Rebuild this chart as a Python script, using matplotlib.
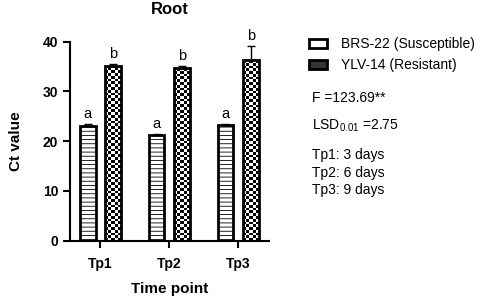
import numpy as np
import matplotlib
matplotlib.use("Agg")
import matplotlib.pyplot as plt
from matplotlib.patches import Patch

plt.rcParams['font.family'] = ['Liberation Sans', 'DejaVu Sans']

# data
timepoints = ["Tp1", "Tp2", "Tp3"]
brs22 = [23.1, 21.3, 23.3]
brs22_err = [0.3, 0.2, 0.2]
ylv14 = [35.2, 34.8, 36.4]
ylv14_err = [0.3, 0.4, 2.7]
brs22_letters = ["a", "a", "a"]
ylv14_letters = ["b", "b", "b"]

fig = plt.figure(figsize=(4.98, 3.0), dpi=100)
ax = fig.add_axes([0.1406, 0.198, 0.40, 0.663])

x = np.arange(len(timepoints))
w = 0.23
off = 0.185

b1 = ax.bar(x - off, brs22, w, color="white", edgecolor="black", linewidth=2,
            hatch="----", zorder=2)
for p in b1:
    p.set_hatch_linewidth(0.6)
b2 = ax.bar(x + off, ylv14, w, facecolor="none", edgecolor="black",
            linewidth=2, zorder=3)

# checkerboard fill inside the resistant bars
for p in b2:
    x0, wd, ht = p.get_x(), p.get_width(), p.get_height()
    nx = 5
    ny = int(round(ht / 0.56))
    board = (np.add.outer(np.arange(ny), np.arange(nx)) % 2).astype(float)
    im = ax.imshow(board, cmap="gray", vmin=0, vmax=1,
                   extent=[x0, x0 + wd, 0, ny * 0.56],
                   origin="lower", interpolation="nearest", aspect="auto",
                   zorder=2.5)
    im.set_clip_path(p)

ax.errorbar(x - off, brs22, yerr=[[0] * 3, brs22_err], fmt="none",
            ecolor="black", elinewidth=1, capsize=3, zorder=4)
ax.errorbar(x + off, ylv14, yerr=[[0] * 3, ylv14_err], fmt="none",
            ecolor="black", elinewidth=1, capsize=3, zorder=4)

for i in range(len(timepoints)):
    ax.text(x[i] - off, brs22[i] + brs22_err[i] + 0.6, brs22_letters[i],
            ha="center", va="bottom", fontsize=10.5)
    ax.text(x[i] + off, ylv14[i] + ylv14_err[i] + 0.6, ylv14_letters[i],
            ha="center", va="bottom", fontsize=10.5)

ax.set_xlim(-0.44, 2.45)
ax.set_ylim(0, 40)
ax.set_yticks([0, 10, 20, 30, 40])
ax.set_xticks(x)
ax.set_xticklabels(timepoints)
for lab in ax.get_xticklabels() + ax.get_yticklabels():
    lab.set_fontweight("bold")
    lab.set_fontsize(10)
ax.tick_params(width=1.5, length=5)
ax.tick_params(axis="x", pad=7)
ax.spines["top"].set_visible(False)
ax.spines["right"].set_visible(False)
ax.spines["left"].set_linewidth(1.5)
ax.spines["bottom"].set_linewidth(1.5)
ax.set_title("Root", fontsize=12, fontweight="bold", pad=20)
ax.set_xlabel("Time point", fontsize=11, fontweight="bold", labelpad=8)
ax.set_ylabel("Ct value", fontsize=11, fontweight="bold", labelpad=14)

handles = [
    Patch(facecolor="white", edgecolor="black", linewidth=2,
          label="BRS-22 (Susceptible)"),
    Patch(facecolor="#333333", edgecolor="black", linewidth=2,
          label="YLV-14 (Resistant)"),
]
fig.legend(handles=handles, loc="upper left", bbox_to_anchor=(0.61, 0.895),
           frameon=False, fontsize=10, handlelength=1.3, handleheight=0.6,
           handletextpad=1.0, labelspacing=0.5, borderaxespad=0)

fig.text(0.627, 0.675, "F =123.69**", fontsize=10, va="center")
fig.text(0.627, 0.582, r"LSD$_{\mathregular{0.01}}$ =2.75", fontsize=10, va="center")
fig.text(0.627, 0.482, "Tp1: 3 days", fontsize=10, va="center")
fig.text(0.627, 0.425, "Tp2: 6 days", fontsize=10, va="center")
fig.text(0.627, 0.367, "Tp3: 9 days", fontsize=10, va="center")

fig.savefig("out.png", dpi=100)
